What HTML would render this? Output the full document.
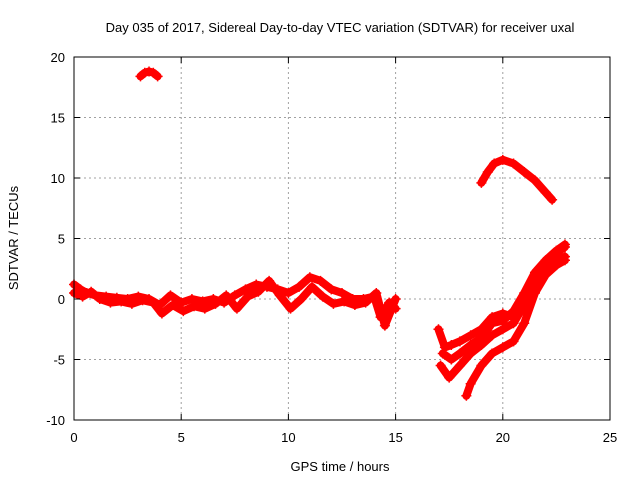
<!DOCTYPE html>
<html><head><meta charset="utf-8"><style>
body{margin:0;background:#fff;width:640px;height:480px;overflow:hidden}
svg text{font-family:"Liberation Sans",sans-serif;font-size:13px;fill:#000}
</style></head><body>
<svg id="chart" width="640" height="480" xmlns="http://www.w3.org/2000/svg">
<text x="340" y="32" text-anchor="middle" font-size="14">Day 035 of 2017, Sidereal Day-to-day VTEC variation (SDTVAR) for receiver uxal</text>
<text x="340" y="471" text-anchor="middle" font-size="14">GPS time / hours</text>
<text transform="translate(18,238) rotate(-90)" text-anchor="middle" font-size="14">SDTVAR / TECUs</text>
<g id="grid"></g><g id="series"></g><g id="axes"></g>
</svg>
<script>
const xTicks=[0,5,10,15,20,25];
const yTicks=[-10,-5,0,5,10,15,20];
const trackTop={t:[3.1,3.3,3.5,3.7,3.9],v:[18.4,18.7,18.8,18.7,18.4]};
const trackMain1={t:[0,0.3,0.6,1,1.5,2,2.5,3,3.5,4,4.5,5,5.5,6,6.5,7,7.5,8,8.5,9,9.5,10,10.5,11,11.5,12,12.5,13,13.5,14,14.3,14.7,15],
 v:[1.2,0.8,0.5,0.3,0.2,0.1,0.0,0.2,0.0,-0.5,0.3,-0.3,0.0,-0.2,0.0,-0.3,0.3,0.8,1.2,1.0,0.8,0.5,1.0,1.8,1.5,0.8,0.5,0.0,0.0,0.2,-1.5,-0.3,-0.8]};
const trackMain2={t:[0,0.4,0.8,1.2,1.7,2.2,2.7,3.2,3.7,4.1,4.6,5.1,5.6,6.1,6.6,7.1,7.6,8.1,8.6,9.1,9.6,10.1,10.6,11.1,11.6,12.1,12.6,13.1,13.6,14.1,14.5,15],
 v:[0.5,0.2,0.6,0.0,-0.3,-0.2,-0.4,-0.1,-0.3,-1.2,-0.5,-1.0,-0.6,-0.8,-0.4,0.3,-0.8,0.2,0.6,1.5,0.3,-0.8,0.0,1.0,0.2,-0.4,-0.2,-0.5,-0.3,0.5,-2.2,0.0]};
const trackPeak={t:[19,19.3,19.6,20,20.5,21,21.5,22,22.3],v:[9.6,10.5,11.2,11.5,11.2,10.5,9.8,8.8,8.2]};
const trackA={t:[17,17.3,17.6,18,18.5,19,19.5,20,20.5,21,21.5,22,22.5,22.9],v:[-2.5,-4,-3.8,-3.5,-3,-2.5,-1.5,-1.2,-1.5,0,1.8,3,3.8,4.3]};
const trackB={t:[17.1,17.5,18,18.5,19,19.5,20,20.5,21,21.5,22,22.5,22.9],v:[-5.5,-6.5,-5.5,-4.5,-3.8,-3,-2.5,-2,-0.5,1.2,2.5,3.2,3.5]};
const trackC={t:[18.3,18.5,19,19.5,20,20.5,21,21.5,22,22.5,22.9],v:[-8,-7,-5.5,-4.5,-4,-3.5,-2,0.5,2,2.8,3.2]};
const trackD={t:[17.2,17.6,18,18.5,19,19.5,20,20.5,21,21.5,22,22.5,22.9],v:[-4.5,-5,-4.5,-3.8,-3.2,-2,-1.8,-1,0.5,2.2,3.2,4,4.5]};
const tracks=[trackTop,trackMain1,trackMain2,trackPeak,trackA,trackB,trackC,trackD];
const X0=74,X1=610,Y0=420,Y1=57;
const xs=t=>X0+(t-0)/25*(X1-X0);
const ys=v=>Y0-(v+10)/30*(Y0-Y1);
const NS="http://www.w3.org/2000/svg";
function mk(tag,attrs,parent){const e=document.createElementNS(NS,tag);for(const k in attrs)e.setAttribute(k,attrs[k]);parent.appendChild(e);return e;}
const grid=document.getElementById('grid'),axes=document.getElementById('axes'),ser=document.getElementById('series');
xTicks.forEach(t=>{
 if(t>0&&t<25){const g=mk('line',{x1:xs(t),x2:xs(t),y1:Y1,y2:Y0,stroke:'#a0a0a0','stroke-dasharray':'2,3'},grid);
 
 }
 const tk=mk('text',{x:xs(t),y:Y0+22,'text-anchor':'middle'},axes);tk.textContent=t;
 
 
 mk('line',{x1:xs(t),x2:xs(t),y1:Y0,y2:Y0-6,stroke:'#000'},axes);
 mk('line',{x1:xs(t),x2:xs(t),y1:Y1,y2:Y1+6,stroke:'#000'},axes);
});
yTicks.forEach(v=>{
 if(v>-10&&v<20){const g=mk('line',{x1:X0,x2:X1,y1:ys(v),y2:ys(v),stroke:'#a0a0a0','stroke-dasharray':'2,3'},grid);
 
 }
 const tk=mk('text',{x:X0-9,y:ys(v)+5,'text-anchor':'end'},axes);tk.textContent=v;
 
 
 mk('line',{x1:X0,x2:X0+6,y1:ys(v),y2:ys(v),stroke:'#000'},axes);
 mk('line',{x1:X1,x2:X1-6,y1:ys(v),y2:ys(v),stroke:'#000'},axes);
});
const frame=mk('rect',{x:X0,y:Y1,width:X1-X0,height:Y0-Y1,fill:'none',stroke:'#000'},axes);


tracks.forEach((tr)=>{
 const pts=tr.t.map((t,i)=>xs(t)+','+ys(tr.v[i])).join(' ');
 const pl=mk('polyline',{points:pts,fill:'none',stroke:'#ff0000','stroke-width':8,'stroke-linejoin':'round','stroke-linecap':'round'},ser);
 
 
 tr.t.forEach((t,i)=>{
  const x=xs(t),y=ys(tr.v[i]);
  const p=mk('path',{d:`M${x-5},${y}H${x+5}M${x},${y-5}V${y+5}`,stroke:'#ff0000','stroke-width':1.5},ser);
  
  
 });
});
</script>
</body></html>
